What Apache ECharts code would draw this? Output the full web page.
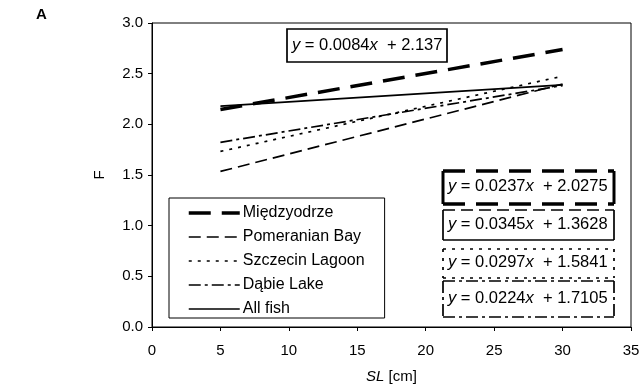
<!DOCTYPE html>
<html>
<head>
<meta charset="utf-8">
<script src="https://cdn.jsdelivr.net/npm/echarts@6/dist/echarts.min.js"></script>
<style>
  html, body { margin: 0; padding: 0; background: #fff; }
  #chart { width: 643px; height: 389px; }
</style>
</head>
<body>
<div id="chart"></div>
<script>
// Regression lines of F against standard length, per sampling site
const groups = ['Międzyodrze', 'Pomeranian Bay', 'Szczecin Lagoon', 'Dąbie Lake', 'All fish'];
const slopes = [0.0237, 0.0345, 0.0297, 0.0224, 0.0084];
const intercepts = [2.0275, 1.3628, 1.5841, 1.7105, 2.137];
const slRange = [5, 30];

const xTickLabels = ['0', '5', '10', '15', '20', '25', '30', '35'];
const yTickLabels = ['0.0', '0.5', '1.0', '1.5', '2.0', '2.5', '3.0'];

const FONT = '"Liberation Sans", Arial, sans-serif';
const EQ_SIZE = 16.5;

// line appearance per group (same order as groups)
const looks = [
  { width: 3.5, dash: [22, 11] },
  { width: 1.7, dash: [12, 6] },
  { width: 1.7, dash: [3, 6] },
  { width: 1.7, dash: [12, 4, 3, 4] },
  { width: 1.7, dash: null }
];

const series = groups.map((name, i) => ({
  name: name,
  type: 'line',
  symbol: 'none',
  showSymbol: false,
  silent: true,
  data: slRange.map(x => [x, slopes[i] * x + intercepts[i]]),
  itemStyle: { color: '#000', opacity: 0 },
  lineStyle: { color: '#000', width: looks[i].width, type: looks[i].dash || 'solid' }
}));

function eqText(i) {
  return '{i|y} = ' + slopes[i] + '{i|x}  + ' + intercepts[i];
}

function eqLabel(i, x, yMid) {
  return {
    type: 'text', left: x, top: yMid - 9.5, z: 10,
    style: {
      text: eqText(i), fill: '#000', font: EQ_SIZE + 'px ' + FONT,
      rich: { i: { fontStyle: 'italic', fontSize: EQ_SIZE, fontFamily: FONT } }
    }
  };
}

function edge(x1, y1, x2, y2, look) {
  return {
    type: 'line', z: 10,
    shape: { x1: x1, y1: y1, x2: x2, y2: y2 },
    style: { stroke: '#000', lineWidth: look.width, lineDash: look.dash }
  };
}

// boxes holding each fitted equation: [x0, y0, x1, y1]
const boxes = [
  { i: 0, r: [443, 171, 614, 204], sides: { width: 3, dash: null } },
  { i: 1, r: [443, 210, 614, 240], sides: { width: 1.7, dash: null }, bottom: { width: 1.7, dash: null } },
  { i: 2, r: [443, 249, 614, 278] },
  { i: 3, r: [443, 281, 614, 317] }
];

const graphics = [
  { type: 'text', left: 36, top: 7, style: { text: 'A', fill: '#000', font: 'bold 15px ' + FONT } },
  {
    type: 'rect', z: 10, shape: { x: 287, y: 29, width: 160, height: 33 },
    style: { fill: '#fff', stroke: '#000', lineWidth: 1.7 }
  },
  eqLabel(4, 292, 46)
];

boxes.forEach(b => {
  const [x0, y0, x1, y1] = b.r;
  const look = looks[b.i];
  const side = b.sides || look;
  graphics.push({ type: 'rect', z: 9, shape: { x: x0, y: y0, width: x1 - x0, height: y1 - y0 }, style: { fill: '#fff' } });
  graphics.push(edge(x0, y0, x1, y0, look));
  graphics.push(edge(x0, y1, x1, y1, b.bottom || look));
  graphics.push(edge(x0, y0, x0, y1, side));
  graphics.push(edge(x1, y0, x1, y1, side));
  graphics.push(eqLabel(b.i, x0 + 5, (y0 + y1) / 2));
});

const chart = echarts.init(document.getElementById('chart'), null, { renderer: 'canvas' });
chart.setOption({
  animation: false,
  backgroundColor: '#fff',
  color: ['#000'],
  textStyle: { fontFamily: FONT },
  grid: {
    left: 152, right: 12, top: 23, bottom: 62,
    show: true, borderColor: '#000', borderWidth: 1
  },
  xAxis: {
    type: 'value', min: 0, max: 35, interval: 5,
    name: '{i|SL} [cm]', nameLocation: 'middle', nameGap: 42,
    nameTextStyle: {
      fontSize: 15, color: '#000', fontFamily: FONT,
      rich: { i: { fontStyle: 'italic', fontSize: 15, color: '#000', fontFamily: FONT } }
    },
    axisLine: { lineStyle: { color: '#000', width: 1 } },
    axisTick: { show: true, inside: false, length: 4, lineStyle: { color: '#000' } },
    axisLabel: {
      color: '#000', fontSize: 15, margin: 16,
      formatter: v => xTickLabels[Math.round(v / 5)]
    },
    splitLine: { show: false }
  },
  yAxis: {
    type: 'value', min: 0, max: 3, interval: 0.5,
    name: 'F', nameLocation: 'middle', nameGap: 45, nameRotate: 90,
    nameTextStyle: { fontSize: 15, color: '#000', fontFamily: FONT },
    axisLine: { show: true, lineStyle: { color: '#000', width: 1 } },
    axisTick: { show: true, inside: false, length: 4, lineStyle: { color: '#000' } },
    axisLabel: {
      color: '#000', fontSize: 15, margin: 9,
      formatter: v => yTickLabels[Math.round(v / 0.5)]
    },
    splitLine: { show: false }
  },
  legend: {
    orient: 'vertical', left: 169, top: 198,
    padding: [7, 20, 1, 18],
    itemWidth: 51, itemHeight: 14, itemGap: 8,
    borderColor: '#000', borderWidth: 1, backgroundColor: '#fff',
    selectedMode: false,
    itemStyle: { opacity: 0 },
    textStyle: { color: '#000', fontSize: 16, fontFamily: FONT, padding: [0, 0, 0, -2] },
    data: groups.map((g, i) => ({
      name: g,
      itemStyle: { opacity: 0 },
      lineStyle: { color: '#000', width: looks[i].width, type: looks[i].dash || 'solid' }
    }))
  },
  series: series,
  graphic: graphics
});
</script>
</body>
</html>
